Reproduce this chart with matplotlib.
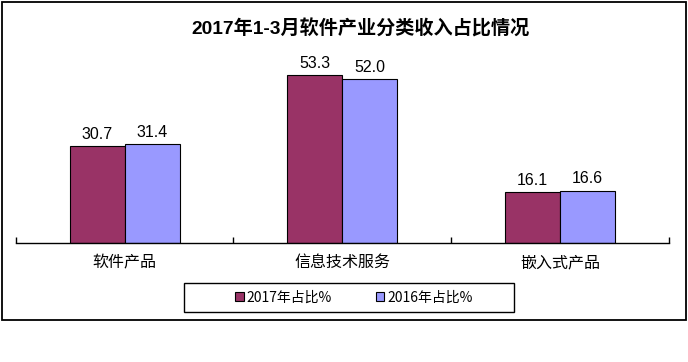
import matplotlib
matplotlib.use("Agg")
import matplotlib.pyplot as plt
from matplotlib.patches import Rectangle, Patch
import numpy as np

categories = ["软件产品", "信息技术服务", "嵌入式产品"]
series_names = ["2017年占比%", "2016年占比%"]
values_2017 = [30.7, 53.3, 16.1]
values_2016 = [31.4, 52.0, 16.6]
title = "2017年1-3月软件产业分类收入占比情况"

plt.rcParams['font.family'] = ['Liberation Sans', 'Noto Sans CJK SC', 'DejaVu Sans']

W, H = 688, 362
fig = plt.figure(figsize=(W/100, H/100), dpi=100)

# outer border
fig.patches.append(Rectangle((2/W, 1 - 320/H), 684/W, 318/H, transform=fig.transFigure,
                             fill=False, edgecolor='black', linewidth=1.3))

left, right, base, top = 15.7, 669, 243, 54
ax = fig.add_axes([left/W, 1 - base/H, (right-left)/W, (base-top)/H])

x = np.arange(len(categories))
bw = 0.2525
c17, c16 = '#993366', '#9999FF'
b1 = ax.bar(x - bw/2, values_2017, bw, color=c17, edgecolor='black', linewidth=0.8)
b2 = ax.bar(x + bw/2, values_2016, bw, color=c16, edgecolor='black', linewidth=0.8)
for bars, vals in ((b1, values_2017), (b2, values_2016)):
    for r, v in zip(bars, vals):
        ax.text(r.get_x() + r.get_width()/2, v + 1.4, f"{v:.1f}", ha='center', va='bottom',
                fontsize=11.5, family=['Liberation Sans'])

ax.set_xlim(-0.5, 2.5)
ax.set_ylim(0, 60)
for s in ['left', 'right', 'top']:
    ax.spines[s].set_visible(False)
ax.spines['bottom'].set_linewidth(1.0)
ax.set_yticks([])
ax.set_xticks([-0.5, 0.5, 1.5, 2.5])
ax.set_xticklabels([])
ax.tick_params(axis='x', which='major', direction='in', length=4, width=1)
ax.set_xticks(x, minor=True)
ax.set_xticklabels(categories, minor=True, fontsize=11.5, family=['Noto Sans CJK SC'])
ax.tick_params(axis='x', which='minor', length=0, pad=8)

fig.text(360/W, 1 - 29/H, title, ha='center', va='center', fontsize=13.8, fontweight='bold')

# legend frame drawn manually
fig.patches.append(Rectangle((184/W, 1 - 312/H), 330/W, 29/H, transform=fig.transFigure,
                             fill=False, edgecolor='black', linewidth=1.0))
handles = [Patch(facecolor=c17, edgecolor='black', linewidth=0.8),
           Patch(facecolor=c16, edgecolor='black', linewidth=0.8)]
leg = fig.legend(handles, series_names, loc='center', ncol=2,
                 bbox_to_anchor=(354/W, 1 - 297.5/H),
                 frameon=False, handlelength=0.6, handleheight=0.6,
                 handletextpad=0.2, columnspacing=3.2, borderpad=0.3,
                 prop={'family': ['Noto Sans CJK SC'], 'size': 10})

fig.savefig("out.png", dpi=100)
